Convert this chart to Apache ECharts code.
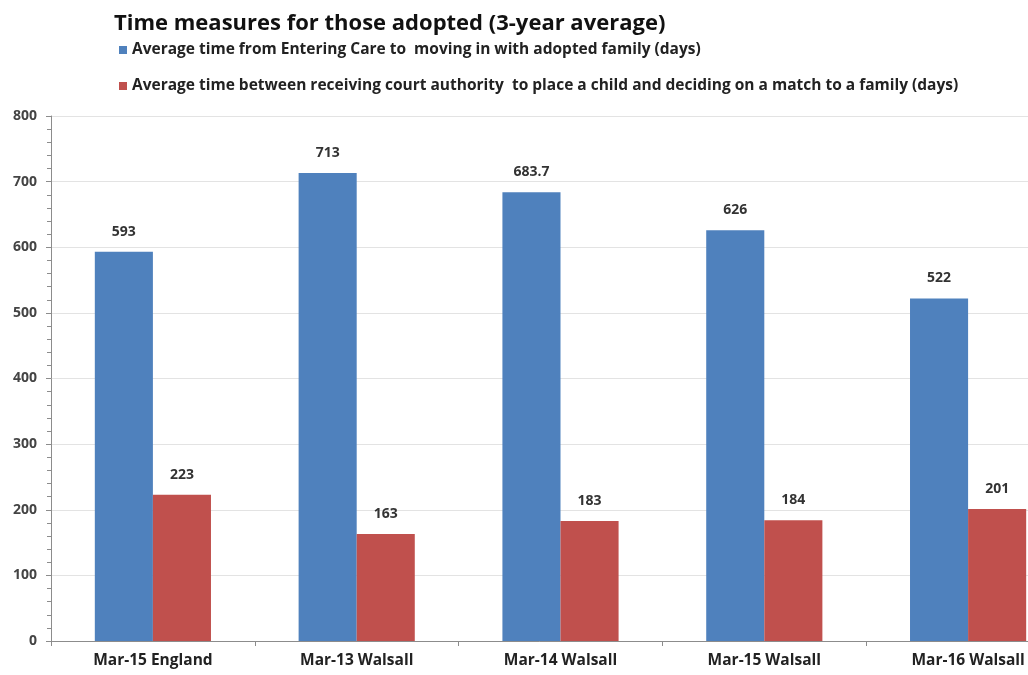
<!DOCTYPE html>
<html><head><meta charset="utf-8">
<script src="https://cdn.jsdelivr.net/npm/echarts@6/dist/echarts.min.js"></script>
<style>html,body{margin:0;padding:0;background:#fff}#c{width:1028px;height:675px}</style>
</head><body><div id="c"></div>
<script>
const categories = ["Mar-15 England","Mar-13 Walsall","Mar-14 Walsall","Mar-15 Walsall","Mar-16 Walsall"];
const seriesNames = ["Average time from Entering Care to  moving in with adopted family (days)",
  "Average time between receiving court authority  to place a child and deciding on a match to a family (days)"];
const entering = [593, 713, 683.7, 626, 522];
const courtToMatch = [223, 163, 183, 184, 201];
const yTicks = [0, 100, 200, 300, 400, 500, 600, 700, 800];

const FONT = '"Open Sans", Arial, sans-serif';
const chart = echarts.init(document.getElementById('c'));
const lbl = {show:true, position:'top', distance:13, fontFamily:FONT, fontWeight:'bold', fontSize:14, color:'#333'};
chart.setOption({
  animation:false,
  title:{text:'Time measures for those adopted (3-year average)', left:109, top:8,
    textStyle:{fontFamily:FONT, fontWeight:'bold', fontSize:22, color:'#111'}},
  legend:{orient:'vertical', left:114, top:37, itemWidth:8, itemHeight:8, itemGap:20, icon:'rect',
    textStyle:{fontFamily:FONT, fontSize:15.5, fontWeight:'bold', color:'#222', padding:[0,0,0,0]},
    data:seriesNames},
  grid:{left:51, top:116, width:1019, height:525, containLabel:false, outerBoundsMode:'none'},
  xAxis:{type:'category', data:categories,
    axisLine:{lineStyle:{color:'#8c8c8c', width:1}},
    axisTick:{show:true, length:5, lineStyle:{color:'#8c8c8c'}},
    axisLabel:{fontFamily:FONT, fontWeight:'bold', fontSize:15.5, color:'#222', margin:12}},
  yAxis:{type:'value', min:yTicks[0], max:yTicks[yTicks.length-1], interval:100,
    axisLine:{show:true, lineStyle:{color:'#8c8c8c'}},
    axisTick:{show:true, length:5, lineStyle:{color:'#8c8c8c'}},
    minorTick:{show:true, splitNumber:5, length:4, lineStyle:{color:'#8c8c8c'}},
    splitLine:{lineStyle:{color:'#e3e3e3', width:1}},
    axisLabel:{fontFamily:FONT, fontWeight:'bold', fontSize:14, color:'#444', margin:14}},
  series:[
    {name:seriesNames[0], type:'bar', data:entering, barCategoryGap:'43%', barGap:'0%',
      itemStyle:{color:'#4F81BD'}, label:lbl},
    {name:seriesNames[1], type:'bar', data:courtToMatch, barCategoryGap:'43%', barGap:'0%',
      itemStyle:{color:'#C0504D'}, label:lbl}
  ]
});
</script></body></html>
